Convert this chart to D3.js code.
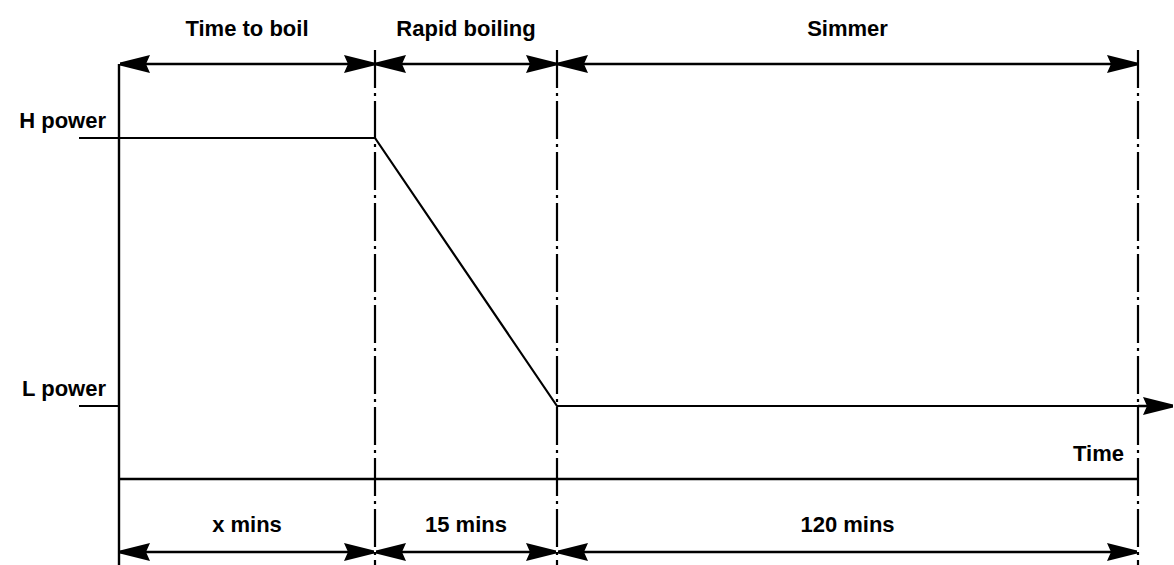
<!DOCTYPE html>
<html>
<head>
<meta charset="utf-8">
<script src="https://cdn.jsdelivr.net/npm/d3@7"></script>
<style>
  body { margin: 0; background: #fff; }
  svg text { font-family: "Liberation Sans", Arial, sans-serif; font-size: 22px; font-weight: bold; fill: #000; }
</style>
</head>
<body>
<svg id="chart"></svg>
<script>
// phases of the cooking cycle
const phases = ["Time to boil", "Rapid boiling", "Simmer"];
const durations = ["x mins", "15 mins", "120 mins"];
const boundaries = [0, 1, 2, 3];           // phase boundaries (schematic time)
const powerTimes = [0, 1, 2, 3];
const powerLevels = ["H", "H", "L", "L"];  // power setting at each boundary
const levelLabels = ["H power", "L power"];
const axisLabel = "Time";

// layout
const width = 1174, height = 565;
const svg = d3.select('#chart').attr('width', width).attr('height', height);

// schematic x scale (phases are not drawn to scale)
const x = d3.scaleLinear()
    .domain(boundaries)
    .range([119, 375, 557, 1138]);
const y = d3.scalePoint()
    .domain(["H", "L"])
    .range([138, 406]);

const yTop = 64, yBase = 479, yBottom = 552;

// arrowhead markers
const defs = svg.append('defs');
function marker(id, flip) {
    defs.append('marker')
        .attr('id', id)
        .attr('viewBox', '0 -10 30 20')
        .attr('refX', 30).attr('refY', 0)
        .attr('markerWidth', 30).attr('markerHeight', 20)
        .attr('markerUnits', 'userSpaceOnUse')
        .attr('orient', flip ? 'auto-start-reverse' : 'auto')
        .append('path')
        .attr('d', 'M0,-9 L30,-1.5 L30,1.5 L0,9 L4,0 Z')
        .attr('fill', '#000');
}
marker('head', false);
marker('headStart', true);

// vertical phase boundaries
svg.append('line')
    .attr('x1', x(0)).attr('x2', x(0))
    .attr('y1', yTop).attr('y2', height)
    .attr('stroke', '#000').attr('stroke-width', 2.4);

svg.selectAll('.bound')
    .data(boundaries.slice(1))
    .enter()
    .append('line')
    .attr('class', 'bound')
    .attr('x1', d => x(d)).attr('x2', d => x(d))
    .attr('y1', yTop - 14).attr('y2', height)
    .attr('stroke', '#000').attr('stroke-width', 2.2)
    .attr('stroke-dasharray', '38,5,3,5');

// double arrows over each phase, top and bottom
[yTop, yBottom].forEach(function(yy) {
    svg.selectAll(null)
        .data(d3.range(phases.length))
        .enter()
        .append('line')
        .attr('x1', i => x(boundaries[i]) + 1)
        .attr('x2', i => x(boundaries[i + 1]) - 1)
        .attr('y1', yy).attr('y2', yy)
        .attr('stroke', '#000').attr('stroke-width', 2.6)
        .attr('marker-start', 'url(#headStart)')
        .attr('marker-end', 'url(#head)');
});

// phase names on top
svg.selectAll('.phase')
    .data(phases)
    .enter()
    .append('text')
    .attr('class', 'phase')
    .attr('x', (d, i) => (x(boundaries[i]) + x(boundaries[i + 1])) / 2)
    .attr('y', 36)
    .attr('text-anchor', 'middle')
    .text(d => d);

// duration labels at bottom
svg.selectAll('.dur')
    .data(durations)
    .enter()
    .append('text')
    .attr('class', 'dur')
    .attr('x', (d, i) => (x(boundaries[i]) + x(boundaries[i + 1])) / 2)
    .attr('y', 532)
    .attr('text-anchor', 'middle')
    .text(d => d);

// base line
svg.append('line')
    .attr('x1', x(0)).attr('x2', x(3))
    .attr('y1', yBase).attr('y2', yBase)
    .attr('stroke', '#000').attr('stroke-width', 2.6);

svg.append('text')
    .attr('x', x(3) - 14)
    .attr('y', 461)
    .attr('text-anchor', 'end')
    .text(axisLabel);

// level ticks and labels
svg.selectAll('.tick')
    .data(y.domain())
    .enter()
    .append('line')
    .attr('x1', 79).attr('x2', x(0))
    .attr('y1', d => y(d)).attr('y2', d => y(d))
    .attr('stroke', '#000').attr('stroke-width', 2.2);

svg.selectAll('.lvl')
    .data(levelLabels)
    .enter()
    .append('text')
    .attr('x', 106)
    .attr('y', (d, i) => y(y.domain()[i]) - 10)
    .attr('text-anchor', 'end')
    .text(d => d);

// power profile
const powerData = powerTimes.map((t, i) => ({t: t, p: powerLevels[i]}));
const line = d3.line()
    .x(d => x(d.t))
    .y(d => y(d.p));
svg.append('path')
    .datum(powerData)
    .attr('d', line)
    .attr('fill', 'none')
    .attr('stroke', '#000')
    .attr('stroke-width', 2.2);

// time arrow continuing past the last phase
svg.append('line')
    .attr('x1', x(3)).attr('x2', width - 1)
    .attr('y1', y('L')).attr('y2', y('L'))
    .attr('stroke', '#000').attr('stroke-width', 2.4)
    .attr('marker-end', 'url(#head)');
</script>
</body>
</html>
